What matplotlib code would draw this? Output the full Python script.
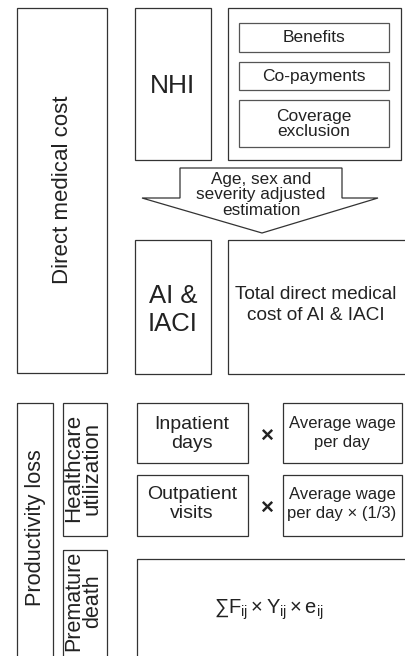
import matplotlib
matplotlib.use("Agg")
import matplotlib.pyplot as plt
from matplotlib.patches import Rectangle, Polygon

plt.rcParams["font.family"] = ["Liberation Sans", "DejaVu Sans"]
plt.rcParams["mathtext.fontset"] = "custom"
plt.rcParams["mathtext.rm"] = "Liberation Sans"
plt.rcParams["mathtext.it"] = "Liberation Sans"

W, H = 405, 656
EDGE = "#333333"

# boxes: (x0, y0, x1, y1) in pixel space, y down; open-bottom boxes run past the edge
box_rects = [
    (17, 8, 107, 373),     # direct medical cost
    (135, 8, 211, 160),    # NHI
    (228, 8, 401, 160),    # NHI details container
    (239, 23, 389, 52),    # benefits
    (239, 62, 389, 90),    # co-payments
    (239, 100, 389, 147),  # coverage exclusion
    (135, 240, 211, 374),  # AI & IACI
    (228, 240, 410, 374),  # total direct cost
    (17, 403, 53, 670),    # productivity loss
    (63, 403, 107, 536),   # healthcare utilization
    (63, 550, 107, 670),   # premature death
    (137, 403, 248, 463),  # inpatient days
    (283, 403, 402, 463),  # wage per day
    (137, 475, 248, 536),  # outpatient visits
    (283, 475, 402, 536),  # wage per day x 1/3
    (137, 559, 410, 670),  # formula box
]

labels = [
    "Direct medical cost", "NHI", "", "Benefits", "Co-payments",
    "Coverage\nexclusion", "AI &\nIACI", "Total direct medical\ncost of AI & IACI",
    "Productivity loss", "Healthcare\nutilization", "Premature\ndeath",
    "Inpatient\ndays", "Average wage\nper day", "Outpatient\nvisits",
    "Average wage\nper day \u00d7 (1/3)", "",
]
label_pos = [
    (62, 190), (173, 86), None, (314, 38), (314, 76), (314, 124),
    (173, 310), (316, 305), (36, 528), (83, 468), (83, 601),
    (192, 434), (342, 433), (192, 504), (342, 504), None,
]
label_size = [16, 19, 0, 12.5, 12.5, 12.5, 18.5, 13.7, 15.7, 16, 15.5,
              14, 12, 14, 12, 0]
label_rot = [90, 0, 0, 0, 0, 0, 0, 0, 90, 90, 90, 0, 0, 0, 0, 0]
label_spacing = [1, 1, 1, 1, 1, 1.05, 1.17, 1.25, 1, 0.86, 0.86,
                 1.18, 1.4, 1.18, 1.4, 1]

arrow_text = "Age, sex and\nseverity adjusted\nestimation"
arrow_pts = [(180, 168), (342, 168), (342, 198), (378, 198), (262, 233),
             (142, 198), (180, 198)]
times_pos = [(267, 436), (267, 508)]
formula = r"$\sum\mathrm{F_{ij}\times Y_{ij}\times e_{ij}}$"

fig = plt.figure(figsize=(W / 100, H / 100), dpi=100)
ax = fig.add_axes([0, 0, 1, 1])
ax.set_xlim(0, W)
ax.set_ylim(H, 0)
ax.axis("off")

inner = {3, 4, 5}
for i, (x0, y0, x1, y1) in enumerate(box_rects):
    ax.add_patch(Rectangle((x0, y0), x1 - x0, y1 - y0, fill=False,
                           edgecolor="#555555" if i in inner else EDGE,
                           linewidth=0.9))
    if label_pos[i] is not None:
        ax.text(*label_pos[i], labels[i], ha="center", va="center",
                fontsize=label_size[i], rotation=label_rot[i],
                linespacing=label_spacing[i], color="#222222")

ax.add_patch(Polygon(arrow_pts, closed=True, fill=True, facecolor="white",
                     edgecolor=EDGE, linewidth=0.9))
ax.text(261, 195, arrow_text, ha="center", va="center", fontsize=12.3,
        linespacing=1.05, color="#222222")

for x, y in times_pos:
    ax.text(x, y, "\u00d7", ha="center", va="center", fontsize=16,
            fontweight="bold", color="#222222")

ax.text(269, 610, formula, ha="center", va="center", fontsize=14.5,
        color="#222222")

fig.savefig("out.png", dpi=100)
